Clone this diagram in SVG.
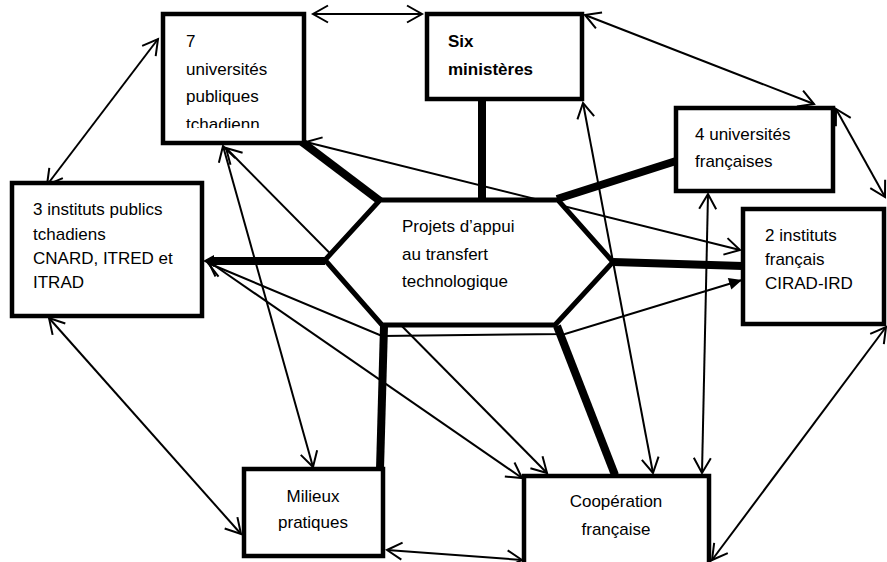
<svg xmlns="http://www.w3.org/2000/svg" width="887" height="562" viewBox="0 0 887 562">
<style>
.box{fill:#fff;stroke:#000;stroke-width:4.5}
.hex{fill:#fff;stroke:#000;stroke-width:5;stroke-linejoin:miter}
.t{font-family:"Liberation Sans",Arial,sans-serif;font-size:17px;fill:#000}
.b{font-weight:bold}
.c{text-anchor:middle}
.thick{stroke:#000;stroke-width:8;fill:none}
.thin{stroke:#000;stroke-width:2;fill:none}
.arr{marker-start:url(#oa);marker-end:url(#oa)}
</style>
<defs>
<marker id="oa" markerUnits="userSpaceOnUse" viewBox="-17 -10 19 20" refX="0" refY="0" markerWidth="19" markerHeight="20" orient="auto-start-reverse" overflow="visible">
<path d="M -15 -8.5 L 0 0 L -15 8.5" fill="none" stroke="#000" stroke-width="2"/>
</marker>
<marker id="fa" markerUnits="userSpaceOnUse" viewBox="-14 -7 15 14" refX="0" refY="0" markerWidth="15" markerHeight="14" orient="auto" overflow="visible">
<path d="M -13 -6 L 0 0 L -13 6 Z" fill="#000"/>
</marker>
<clipPath id="clip1"><rect x="165" y="16" width="137" height="112"/></clipPath>
</defs>

<g id="connectors">
<line class="thick" x1="380" y1="201" x2="302" y2="142"/>
<line class="thick" x1="482" y1="200" x2="482" y2="99"/>
<line class="thick" x1="557" y1="199" x2="676" y2="161"/>
<line class="thick" x1="613" y1="262" x2="743" y2="266"/>
<line class="thick" x1="325" y1="261" x2="212" y2="261"/>
<path d="M 214 255 L 203 261 L 214 267 Z" fill="#000"/>
<line class="thick" x1="384" y1="326" x2="380" y2="469"/>
<line class="thick" x1="557" y1="326" x2="615" y2="475"/>

<line class="thin arr" x1="313" y1="14" x2="422" y2="14"/>
<line class="thin arr" x1="158" y1="39" x2="47" y2="185"/>
<line class="thin arr" x1="585" y1="15" x2="814" y2="104"/>
<line class="thin arr" x1="836" y1="109" x2="885" y2="197"/>
<line class="thin arr" x1="886" y1="327" x2="712" y2="560"/>
<line class="thin arr" x1="49" y1="318" x2="241" y2="534"/>
<line class="thin arr" x1="387" y1="550" x2="522" y2="560"/>
<line class="thin arr" x1="223" y1="146" x2="313" y2="467"/>
<line class="thin arr" x1="226" y1="148" x2="547" y2="473"/>
<line class="thin arr" x1="306" y1="142" x2="740" y2="250"/>
<line class="thin arr" x1="583" y1="103" x2="653" y2="473"/>
<line class="thin arr" x1="708" y1="194" x2="702" y2="473"/>
<line class="thin arr" x1="208" y1="261" x2="522" y2="478"/>
<polyline class="thin" points="208,263 382,336 565,334 742,280" marker-start="url(#oa)" marker-end="url(#fa)"/>
</g>

<g id="hub">
<polygon class="hex" points="380,200 558,200 613,262 555,325 382,325 325,260"/>
<text class="t" x="402" y="232">Projets d’appui</text>
<text class="t" x="402" y="260">au transfert</text>
<text class="t" x="402" y="287">technologique</text>
</g>

<g id="n-universites-tchad">
<rect class="box" x="163" y="14" width="141" height="129"/>
<g clip-path="url(#clip1)">
<text class="t" x="186" y="47">7</text>
<text class="t" x="186" y="75">universités</text>
<text class="t" x="186" y="102">publiques</text>
<text class="t" x="186" y="130">tchadienn</text>
</g>
</g>

<g id="n-ministeres">
<rect class="box" x="427" y="14" width="155" height="85"/>
<text class="t b" x="448" y="47">Six</text>
<text class="t b" x="448" y="75">ministères</text>
</g>

<g id="n-universites-fr">
<rect class="box" x="676" y="108" width="157" height="83"/>
<text class="t" x="695" y="140">4 universités</text>
<text class="t" x="695" y="167">françaises</text>
</g>

<g id="n-instituts-tchad">
<rect class="box" x="12" y="183" width="190" height="133"/>
<text class="t" x="33" y="215">3 instituts publics</text>
<text class="t" x="33" y="240">tchadiens</text>
<text class="t" x="33" y="264">CNARD, ITRED et</text>
<text class="t" x="33" y="288">ITRAD</text>
</g>

<g id="n-instituts-fr">
<rect class="box" x="743" y="209" width="141" height="115"/>
<text class="t" x="765" y="241">2 instituts</text>
<text class="t" x="765" y="265">français</text>
<text class="t" x="765" y="289">CIRAD-IRD</text>
</g>

<g id="n-milieux">
<rect class="box" x="244" y="469" width="139" height="87"/>
<text class="t c" x="313" y="502">Milieux</text>
<text class="t c" x="313" y="528">pratiques</text>
</g>

<g id="n-cooperation">
<rect class="box" x="524" y="476" width="185" height="100"/>
<text class="t c" x="616" y="507">Coopération</text>
<text class="t c" x="616" y="535">française</text>
</g>
</svg>
